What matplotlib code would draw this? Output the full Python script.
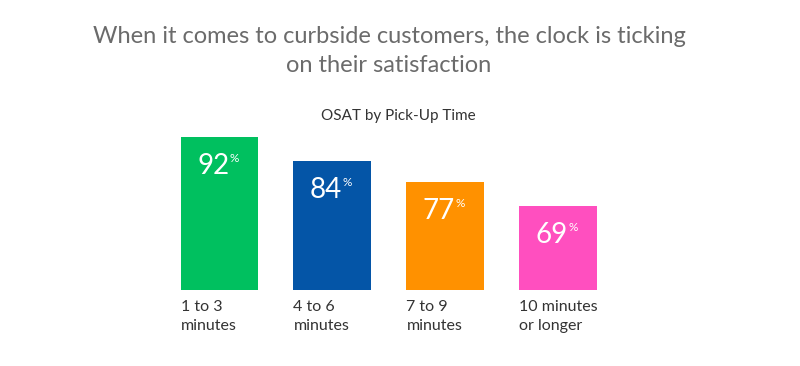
import matplotlib.pyplot as plt

plt.rcParams['font.family'] = ['Lato', 'DejaVu Sans']

categories = ["1 to 3\nminutes", "4 to 6\nminutes", "7 to 9\nminutes", "10 minutes\nor longer"]
osat = [92, 84, 77, 69]
colors = ["#00c05f", "#0455a7", "#ff9100", "#ff4fbf"]

W, H = 800, 366
fig = plt.figure(figsize=(W / 100, H / 100), dpi=100)

# axes placed in pixel terms: bar bottoms at y=290
ax = fig.add_axes([150 / W, 1 - 290 / H, 470 / W, 157 / H])
x = list(range(len(osat)))
width = 0.69
ax.bar(x, osat, width=width, color=colors)
ax.set_xlim(-0.615, 3.545)
ax.set_ylim(41, 93.5)
ax.axis("off")

for i, v in enumerate(osat):
    ax.annotate(f"{v}", xy=(i, v), xytext=(7, -11), textcoords="offset points",
                ha="right", va="top", color="white", fontsize=20)
    ax.annotate("%", xy=(i, v), xytext=(7.5, -11), textcoords="offset points",
                ha="left", va="top", color="white", fontsize=8.5)
    ax.annotate(categories[i], xy=(i - width / 2, 41), xytext=(0, -7),
                textcoords="offset points", ha="left", va="top",
                color="#333333", fontsize=11.5, linespacing=1.5)

fig.text(389 / W, 1 - 26 / H,
         "When it comes to curbside customers, the clock is ticking\non their satisfaction",
         ha="center", va="top", color="#6b6b6b", fontsize=17,
         linespacing=1.5)
fig.text(398 / W, 1 - 116 / H, "OSAT by Pick-Up Time", ha="center",
         va="center", color="#333333", fontsize=11)

fig.savefig("out.png", dpi=100)
